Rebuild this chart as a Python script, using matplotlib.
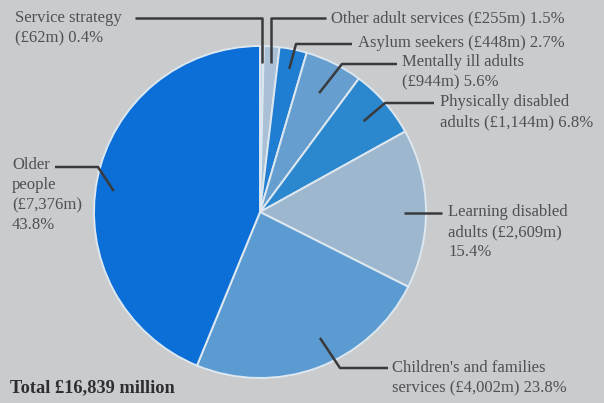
import numpy as np
import matplotlib.pyplot as plt

# Social services spending by client group, £ million
groups = ["Service strategy", "Other adult services", "Asylum seekers",
          "Mentally ill adults", "Physically disabled adults",
          "Learning disabled adults", "Children's and families services",
          "Older people"]
spend = [62, 255, 448, 944, 1144, 2609, 4002, 7376]
shares = [0.4, 1.5, 2.7, 5.6, 6.8, 15.4, 23.8, 43.8]
total_label = "Total £16,839 million"

labels = [
    "Service strategy\n(£62m) 0.4%",
    "Other adult services (£255m) 1.5%",
    "Asylum seekers (£448m) 2.7%",
    "Mentally ill adults\n(£944m) 5.6%",
    "Physically disabled\nadults (£1,144m) 6.8%",
    "Learning disabled\nadults (£2,609m)\n15.4%",
    "Children's and families\nservices (£4,002m) 23.8%",
    "Older\npeople\n(£7,376m)\n43.8%",
]

colors = ["#c3d2df", "#a9c0d6", "#1f7ed2", "#659ecf", "#2b87ce",
          "#9db7cf", "#5c9bd2", "#0c6fd7"]

bg = "#c9cbcd"
ink = "#505052"

W, H = 604, 403
fig = plt.figure(figsize=(W / 100, H / 100), dpi=100, facecolor=bg)
ax = fig.add_axes([0, 0, 1, 1])
ax.set_facecolor(bg)

cx, cy, R = 260, 212, 166

# with the y axis flipped, data-counterclockwise reads clockwise on screen
wedges, _ = ax.pie(spend, colors=colors, startangle=-90, counterclock=True,
                   center=(cx, cy), radius=R, frame=True,
                   wedgeprops=dict(edgecolor="#dde7ef", linewidth=1.4))
ax.set_xlim(0, W)
ax.set_ylim(H, 0)  # pixel-style coordinates, y grows downwards
ax.set_aspect("equal")
ax.axis("off")

# leader layout: text position, line start, elbow x (None = straight down/across),
# depth in wedge and angular nudge (degrees) of the inner end
leaders = [
    dict(tx=15, ty=19, lx=135, ly=18, elbow=None, depth=0.90, nudge=0),
    dict(tx=331, ty=19, lx=326, ly=18, elbow=None, depth=0.90, nudge=0),
    dict(tx=358, ty=44, lx=352, ly=44, elbow=296, depth=0.88, nudge=0),
    dict(tx=402, ty=63, lx=397, ly=64, elbow=342, depth=0.80, nudge=0),
    dict(tx=440, ty=103, lx=434, ly=103, elbow=385, depth=0.83, nudge=0),
    dict(tx=448, ty=213, lx=442, ly=213, elbow=None, depth=0.87, nudge=0),
    dict(tx=392, ty=369, lx=388, ly=368, elbow=340, depth=0.84, nudge=-5),
    dict(tx=12, ty=166, lx=55, ly=167, elbow=98, depth=0.89, nudge=-3),
]

for w, lab, ld in zip(wedges, labels, leaders):
    mid = np.deg2rad((w.theta1 + w.theta2) / 2 + ld["nudge"])
    ix = cx + ld["depth"] * R * np.cos(mid)
    iy = cy + ld["depth"] * R * np.sin(mid)
    if ld["elbow"] is None:
        if abs(ld["ly"] - iy) < 5:
            xs, ys = [ld["lx"], ix], [ld["ly"], ld["ly"]]
        else:
            xs, ys = [ld["lx"], ix, ix], [ld["ly"], ld["ly"], iy]
    else:
        xs, ys = [ld["lx"], ld["elbow"], ix], [ld["ly"], ld["ly"], iy]
    ax.plot(xs, ys, color="#3a3a3c", lw=1.8, solid_capstyle="butt", zorder=3)
    ax.text(ld["tx"], ld["ty"] - 9, lab, ha="left", va="top",
            fontsize=12, family="Liberation Serif", color=ink,
            linespacing=1.33)

ax.text(10, 388, total_label, ha="left", va="center", fontsize=13.2,
        family="Liberation Serif", fontweight="bold", color="#2e2e30")

fig.savefig("out.png", dpi=100, facecolor=bg)
